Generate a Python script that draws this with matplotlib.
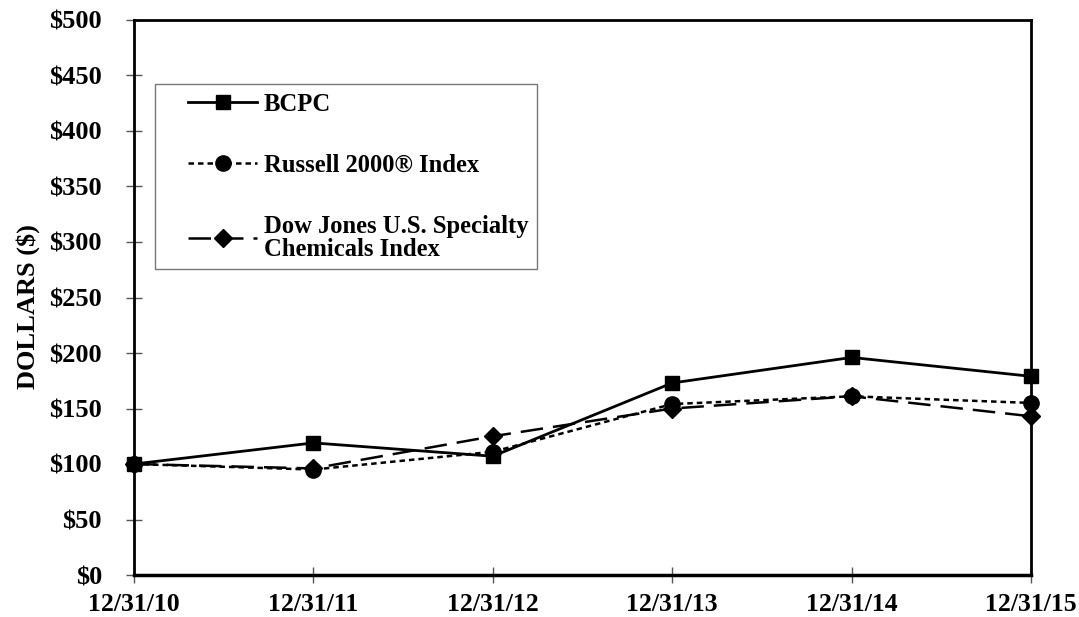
import matplotlib
matplotlib.use("Agg")
import matplotlib.pyplot as plt
from matplotlib.legend_handler import HandlerLine2D

dates = ["12/31/10", "12/31/11", "12/31/12", "12/31/13", "12/31/14", "12/31/15"]
bcpc = [100, 119, 107, 173, 196, 179]
russell = [100, 95, 111, 154, 161, 155]
dowjones = [100, 96, 125, 150, 161, 143]
yticks = [0, 50, 100, 150, 200, 250, 300, 350, 400, 450, 500]
ytick_labels = ["$" + str(v) for v in yticks]
series_names = ["BCPC", "Russell 2000\u00ae Index", "Dow Jones U.S. Specialty\nChemicals Index"]

plt.rcParams['font.family'] = ['Liberation Serif', 'DejaVu Serif']
plt.rcParams['font.weight'] = 'bold'

fig = plt.figure(figsize=(10.79, 6.17), dpi=100)
ax = fig.add_axes([134/1079, 1 - 575/617, (1031-134)/1079, (575-20)/617])

x = list(range(len(dates)))
l1, = ax.plot(x, bcpc, color='black', lw=2, marker='s', ms=10, clip_on=False, zorder=3)
l2, = ax.plot(x, russell, color='black', lw=1.8, linestyle=(0, (2.2, 1.6)), marker='o', ms=11, clip_on=False, zorder=3)
l3, = ax.plot(x, dowjones, color='black', lw=1.8, linestyle=(0, (9, 4)), marker='D', ms=9.5, clip_on=False, zorder=3)

ax.set_xlim(0, len(dates) - 1)
ax.set_ylim(0, 500)
ax.set_xticks(x)
ax.set_xticklabels(dates, fontsize=18.5, fontweight='bold')
ax.set_yticks(yticks)
ax.set_yticklabels(ytick_labels, fontsize=19, fontweight='bold')
ax.tick_params(axis='both', direction='inout', length=12, width=1, color='#555555')
ax.tick_params(axis='x', pad=7)
ax.tick_params(axis='y', pad=17)
for s in ax.spines.values():
    s.set_linewidth(2)
    s.set_color('black')
ax.spines['bottom'].set_linewidth(2.5)
ax.set_ylabel("DOLLARS ($)", fontsize=19, fontweight='bold')
ax.yaxis.set_label_coords((40 - 134) / 897, (575 - 307) / 555)

hm = {l: HandlerLine2D(xpad=1.0) for l in (l1, l2, l3)}
leg = ax.legend([l1, l2, l3], series_names, loc='upper left', handler_map=hm,
                bbox_to_anchor=((155-134)/897, (575-84)/555), borderaxespad=0,
                prop={'size': 17.7, 'weight': 'bold'}, handlelength=3.8,
                labelspacing=1.55, borderpad=0.35, fancybox=False, frameon=True,
                handletextpad=0.28)
for t in leg.get_texts():
    t.set_linespacing(1.0)
leg.get_frame().set_edgecolor('#555555')
leg.get_frame().set_linewidth(1)

fig.savefig("out.png", dpi=100)
